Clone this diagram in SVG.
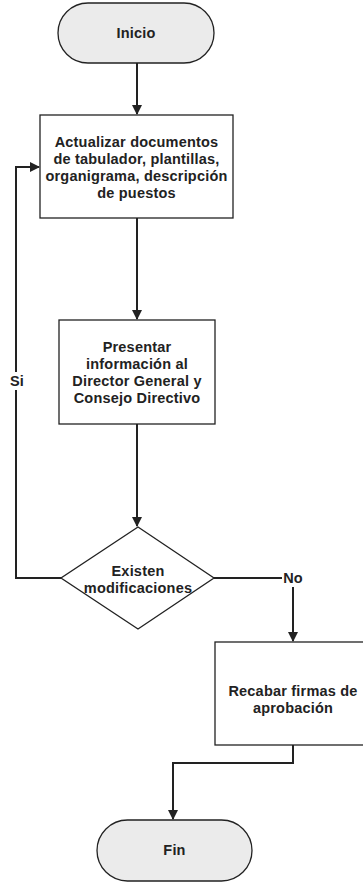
<svg xmlns="http://www.w3.org/2000/svg" width="363" height="883" viewBox="0 0 363 883">
<style>
.term{fill:#ebebeb;stroke:#222;stroke-width:1.3}
.box{fill:#fff;stroke:#222;stroke-width:1.3}
.t{font-family:"Liberation Sans",Arial,sans-serif;font-size:14.5px;font-weight:bold;letter-spacing:0.2px;fill:#222;text-anchor:middle}
.c{fill:none;stroke:#222;stroke-width:2}
</style>
<defs>
<marker id="ah" markerWidth="10" markerHeight="10" refX="9" refY="5" orient="auto" markerUnits="userSpaceOnUse" viewBox="0 0 10 10">
<path d="M0,0 L10,5 L0,10 Z" fill="#222"/>
</marker>
</defs>
<g id="connectors">
<path class="c" d="M137,63 V114" marker-end="url(#ah)"/>
<path class="c" d="M137,218 V319" marker-end="url(#ah)"/>
<path class="c" d="M137,424 V526" marker-end="url(#ah)"/>
<path class="c" d="M61,578 H16 V167 H39" marker-end="url(#ah)"/>
<path class="c" d="M214,578 H282"/>
<path class="c" d="M293,587 V641" marker-end="url(#ah)"/>
<path class="c" d="M293,745 V763 H173 V819" marker-end="url(#ah)"/>
<rect x="8" y="372" width="18" height="18" fill="#fff"/>
<text class="t" x="17" y="386">Si</text>
<text class="t" x="293" y="583">No</text>
</g>
<g id="inicio">
<rect class="term" x="58" y="3" width="156" height="60" rx="30" ry="30"/>
<text class="t" x="136" y="38">Inicio</text>
</g>
<g id="actualizar">
<rect class="box" x="40" y="115" width="193" height="103"/>
<text class="t" x="136.5" y="147">Actualizar documentos</text>
<text class="t" x="136.5" y="164">de tabulador, plantillas,</text>
<text class="t" x="136.5" y="181">organigrama, descripción</text>
<text class="t" x="136.5" y="198">de puestos</text>
</g>
<g id="presentar">
<rect class="box" x="59" y="320" width="156" height="104"/>
<text class="t" x="137" y="352">Presentar</text>
<text class="t" x="137" y="369">información al</text>
<text class="t" x="137" y="386">Director General y</text>
<text class="t" x="137" y="403">Consejo Directivo</text>
</g>
<g id="existen">
<polygon class="box" points="138,527 214,578 138,629 61,578"/>
<text class="t" x="138" y="576">Existen</text>
<text class="t" x="138" y="593">modificaciones</text>
</g>
<g id="recabar">
<rect class="box" x="215" y="642" width="156" height="103"/>
<text class="t" x="293" y="696">Recabar firmas de</text>
<text class="t" x="293" y="713">aprobación</text>
</g>
<g id="fin">
<rect class="term" x="97" y="820" width="155" height="61" rx="30.5" ry="30.5"/>
<text class="t" x="174.5" y="855">Fin</text>
</g>
</svg>
